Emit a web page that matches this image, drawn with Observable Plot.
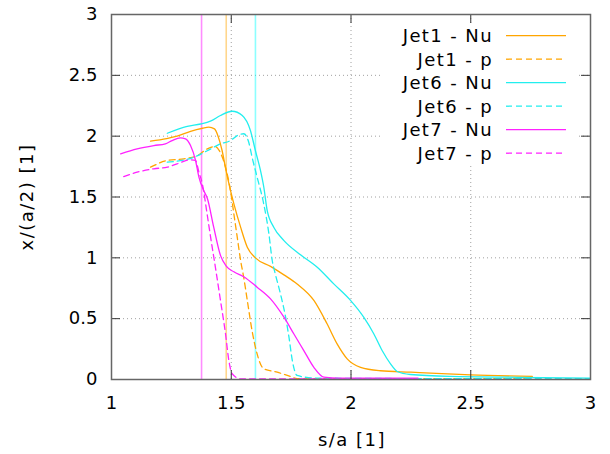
<!DOCTYPE html>
<html>
<head>
<meta charset="utf-8">
<script src="https://cdn.jsdelivr.net/npm/d3@7"></script>
<script src="https://cdn.jsdelivr.net/npm/@observablehq/plot@0.6"></script>
<style>
  body { margin: 0; background: #fff; }
  #wrap { position: relative; width: 610px; height: 454px; font-family: "DejaVu Sans", sans-serif; }
  #legend { position: absolute; left: 383px; top: 24px; width: 194px; height: 140px; background: #fff; overflow: visible; }
  #chart g[aria-label="text"] text { letter-spacing: 1.5px; }
  #legend text { letter-spacing: 1.4px; }
</style>
</head>
<body>
<div id="wrap"><div id="chart"></div><svg id="legend" width="194" height="140"></svg></div>
<script>
// ---- data ----
const jet1NuS = [1.163,1.23,1.274,1.33,1.38,1.406,1.43,1.445,1.462,1.476,1.497,1.511,1.539,1.567,1.601,1.664,1.72,1.775,1.845,1.90,1.942,1.984,2.04,2.123,2.25,2.332,2.499,2.757];
const jet1NuY = [1.959,1.98,2.0,2.04,2.065,2.074,2.06,2.0,1.88,1.74,1.553,1.444,1.252,1.087,1.0,0.93,0.86,0.785,0.65,0.458,0.293,0.17,0.10,0.072,0.06,0.052,0.038,0.025];

const jet1PS = [1.163,1.233,1.302,1.358,1.40,1.431,1.448,1.462,1.476,1.497,1.511,1.525,1.539,1.552,1.567,1.587,1.608,1.636,1.692,1.747,1.775,2.0,2.4,2.75];
const jet1PY = [1.745,1.80,1.814,1.84,1.896,1.915,1.888,1.83,1.745,1.55,1.36,1.17,0.98,0.84,0.65,0.40,0.21,0.088,0.06,0.025,0.008,0.006,0.006,0.006];

const jet6NuS = [1.233,1.316,1.372,1.413,1.455,1.504,1.546,1.58,1.601,1.622,1.636,1.65,1.678,1.72,1.789,1.859,1.928,1.998,2.053,2.095,2.13,2.165,2.193,2.248,2.415,2.7,3.0];
const jet6NuY = [2.024,2.08,2.10,2.123,2.17,2.205,2.17,2.047,1.88,1.718,1.58,1.39,1.25,1.142,1.026,0.923,0.786,0.65,0.512,0.376,0.238,0.129,0.066,0.041,0.025,0.018,0.012];

const jet6PS = [1.233,1.344,1.40,1.455,1.497,1.525,1.552,1.573,1.587,1.608,1.636,1.657,1.671,1.685,1.706,1.727,1.741,1.755,1.775,1.85,2.2,2.6,3.0];
const jet6PY = [1.786,1.827,1.88,1.937,1.964,2.005,2.02,1.95,1.827,1.663,1.44,1.20,0.98,0.86,0.70,0.512,0.348,0.156,0.033,0.012,0.008,0.008,0.008];

const jet7NuS = [1.038,1.107,1.177,1.225,1.253,1.288,1.309,1.33,1.351,1.365,1.385,1.40,1.427,1.455,1.48,1.511,1.552,1.608,1.664,1.72,1.761,1.803,1.845,1.887,1.95,2.1,2.28];
const jet7NuY = [1.855,1.896,1.923,1.937,1.964,1.986,1.978,1.923,1.80,1.663,1.553,1.49,1.25,1.02,0.93,0.885,0.845,0.759,0.663,0.512,0.376,0.238,0.10,0.019,0.012,0.012,0.012];

const jet7PS = [1.051,1.107,1.177,1.233,1.274,1.33,1.351,1.365,1.379,1.40,1.413,1.434,1.455,1.476,1.49,1.504,1.539,1.8,2.28];
const jet7PY = [1.668,1.704,1.732,1.745,1.773,1.806,1.80,1.704,1.61,1.35,1.18,0.92,0.65,0.376,0.156,0.047,0.005,0.005,0.005];

const markerS = [1.376, 1.479, 1.601];
const markerColors = ["#ff00ff", "#ffa500", "#00ffff"];

const seriesNames = ["Jet1 - Nu", "Jet1 - p", "Jet6 - Nu", "Jet6 - p", "Jet7 - Nu", "Jet7 - p"];
const seriesColors = ["#ffa500", "#ffa500", "#22eeee", "#22eeee", "#ff22ff", "#ff22ff"];
const seriesDashed = [false, true, false, true, false, true];
const seriesS = [jet1NuS, jet1PS, jet6NuS, jet6PS, jet7NuS, jet7PS];
const seriesY = [jet1NuY, jet1PY, jet6NuY, jet6PY, jet7NuY, jet7PY];

const xTicks = [1, 1.5, 2, 2.5, 3];
const yTicks = [0, 0.5, 1, 1.5, 2, 2.5, 3];
const xInner = [1.5, 2, 2.5];
const yInner = [0.5, 1, 1.5, 2, 2.5];

// ---- chart ----
const W = 610, H = 454, ML = 111, MR = 20, MT = 14, MB = 75;
const PW = W - ML - MR, PH = H - MT - MB;
const TICK = 9;

const lineMarks = seriesNames.map((name, i) => {
  const data = seriesS[i].map((s, j) => ({s, y: seriesY[i][j]}));
  return Plot.line(data, {
    x: "s", y: "y", stroke: seriesColors[i], strokeWidth: 1.3,
    strokeDasharray: seriesDashed[i] ? "6,4" : null, curve: "monotone-x"
  });
});

const chart = Plot.plot({
  width: W, height: H,
  marginLeft: ML, marginRight: MR, marginTop: MT, marginBottom: MB,
  style: {fontFamily: "DejaVu Sans, sans-serif", fontSize: "18px", color: "#000", background: "#fff"},
  x: {domain: [1, 3], ticks: xTicks, tickSize: 0, tickPadding: 17, label: null,
      tickFormat: d => String(d)},
  y: {domain: [0, 3], ticks: yTicks, tickSize: 0, tickPadding: 14, label: null,
      tickFormat: d => String(d)},
  marks: [
    Plot.ruleX(xInner, {stroke: "#a0a0a0", strokeDasharray: "1,3", strokeWidth: 1}),
    Plot.ruleY(yInner, {stroke: "#a0a0a0", strokeDasharray: "1,3", strokeWidth: 1}),
    Plot.ruleX(markerS, {stroke: markerColors, strokeOpacity: 0.45, strokeWidth: 1.6}),
    ...lineMarks,
    Plot.ruleX(xInner, {stroke: "#333", insetTop: PH - TICK}),
    Plot.ruleX(xInner, {stroke: "#333", insetBottom: PH - TICK}),
    Plot.ruleY(yInner, {stroke: "#333", insetRight: PW - TICK}),
    Plot.ruleY(yInner, {stroke: "#333", insetLeft: PW - TICK}),
    Plot.frame({stroke: "#666", strokeWidth: 1.5}),
    Plot.text(["s/a [1]"], {frameAnchor: "bottom", lineAnchor: "middle", textAnchor: "middle", dy: 61, dx: 1, fontSize: 18}),
    Plot.text(["x/(a/2) [1]"], {frameAnchor: "left", lineAnchor: "middle", textAnchor: "middle", rotate: -90, dx: -84, fontSize: 18})
  ]
});
document.getElementById("chart").appendChild(chart);

// ---- legend (gnuplot-style key) ----
const leg = d3.select("#legend");
const rowY0 = 11.7, rowStep = 23.5;
seriesNames.forEach((name, i) => {
  const y = rowY0 + i * rowStep;
  leg.append("text").attr("x", 110).attr("y", y).attr("dy", "0.35em")
    .attr("text-anchor", "end").attr("font-size", 18).attr("font-family", "DejaVu Sans, sans-serif")
    .attr("fill", "#000").text(name);
  leg.append("line").attr("x1", 123).attr("x2", 183).attr("y1", y).attr("y2", y)
    .attr("stroke", seriesColors[i]).attr("stroke-width", 1.3)
    .attr("stroke-dasharray", seriesDashed[i] ? "6,4" : null);
});
</script>
</body>
</html>
